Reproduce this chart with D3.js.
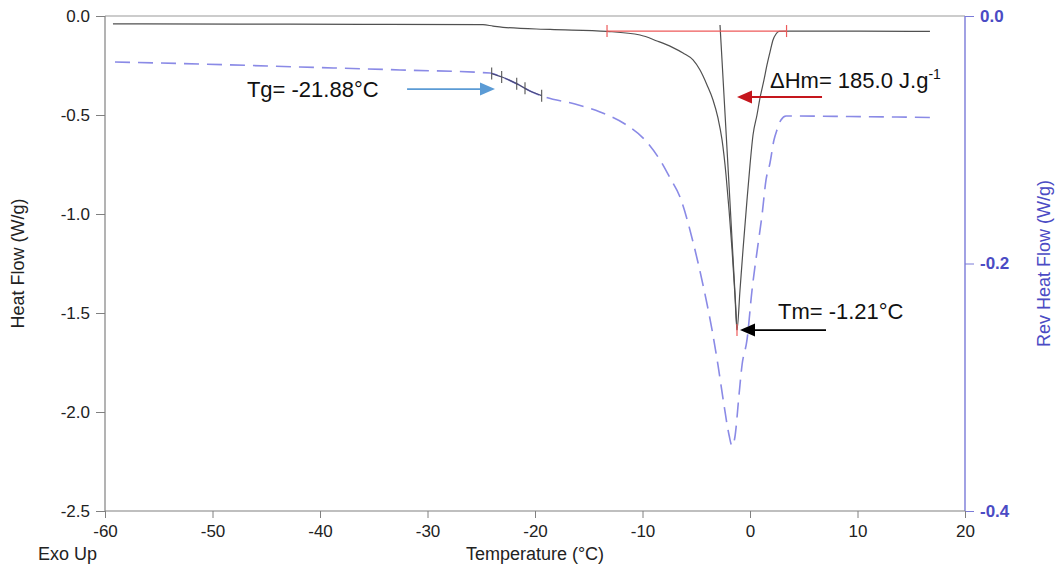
<!DOCTYPE html>
<html>
<head>
<meta charset="utf-8">
<script src="https://cdn.jsdelivr.net/npm/d3@7"></script>
<style>
  html, body { margin: 0; padding: 0; background: #fff; }
  svg { display: block; font-family: Arial, "Liberation Sans", sans-serif; }
</style>
</head>
<body>
<svg id="chart" width="1059" height="570"></svg>
<script>
// ---------------- DATA ----------------
const tempTicks = [-60, -50, -40, -30, -20, -10, 0, 10, 20];
const hfTicks = [0, -0.5, -1.0, -1.5, -2.0, -2.5];
const revTicks = [0, -0.2, -0.4];

// Heat Flow (W/g) — solid trace
const hfTemp = [-59.26, -56.47, -46.5, -36.0, -24.84, -23.9, -22.98, -18.6, -13.3, -10.23, -8.65, -7.26, -6.23, -5.3, -4.65, -4.0, -3.44, -2.98, -2.6, -2.23, -1.95, -1.67, -1.4, -1.21,
  -0.93, -0.65, -0.28, 0.0, 0.28, 0.65, 0.93, 1.3, 1.58, 1.86, 2.14, 2.42, 2.7, 3.72, 10.23, 16.74];
const hfValue = [-0.040, -0.040, -0.041, -0.042, -0.044, -0.051, -0.057, -0.068, -0.078, -0.096, -0.126, -0.157, -0.187, -0.222, -0.273, -0.348, -0.424, -0.515, -0.626, -0.803, -0.98, -1.18, -1.41, -1.586,
  -1.384, -1.18, -0.93, -0.753, -0.601, -0.5, -0.414, -0.323, -0.247, -0.182, -0.121, -0.091, -0.078, -0.076, -0.076, -0.078];

// near-vertical return segment of the heat flow trace
const hfSpikeTemp = [-2.79, -2.0, -1.21];
const hfSpikeValue = [-0.045, -0.80, -1.586];

// Rev Heat Flow (W/g) — dashed trace (right axis)
const revTemp = [-59.07, -51.16, -41.86, -32.56, -24.19, -23.07, -21.67, -20.47, -19.07, -16.28, -13.95, -11.63, -9.77, -8.37, -7.44, -6.51, -5.3, -4.37, -3.53, -2.98, -2.42, -1.95, -1.67,
  -1.4, -1.02, -0.74, -0.28, 0.19, 0.74, 1.12, 1.49, 1.86, 2.23, 2.51, 2.88, 3.35, 9.3, 16.74];
const revValue = [-0.0372, -0.0388, -0.0412, -0.0436, -0.0461, -0.0493, -0.0549, -0.0606, -0.0655, -0.0711, -0.0776, -0.0873, -0.1002, -0.1164, -0.1309, -0.1463, -0.1826, -0.2174, -0.2537, -0.282, -0.3143, -0.3386, -0.3475,
  -0.340, -0.306, -0.282, -0.2618, -0.2214, -0.185, -0.1608, -0.1325, -0.1188, -0.1002, -0.0921, -0.084, -0.0808, -0.0812, -0.082];

// Tg analysis markers (temperatures on the rev heat flow trace)
const tgMarks = [-24.03, -23.10, -21.70, -20.93, -19.38];
const tgValue = -21.88;
// Melting integration limits and peak
const meltStart = -13.3, meltEnd = 3.4, meltBase = -0.076;
const tmTemp = -1.21, tmValue = -1.586;
const dHm = 185.0;

// ---------------- CHART ----------------
const svg = d3.select("#chart");
const mLeft = 105, mRight = 965, mTop = 16, mBottom = 511;

const x = d3.scaleLinear().domain([-60, 20]).range([mLeft, mRight]);
const y = d3.scaleLinear().domain([-2.5, 0]).range([mBottom, mTop]);
const y2 = d3.scaleLinear().domain([-0.4, 0]).range([mBottom, mTop]);

const axisColor = "#808080";
const textColor = "#222";
const blue = "#4b4bc4";
const fmt1 = d => d.toFixed(1);
const tickFont = "17px";
const titleFont = "18px";

// top border
svg.append("line").attr("x1", mLeft).attr("x2", mRight).attr("y1", mTop).attr("y2", mTop)
  .attr("stroke", "#999").attr("stroke-width", 1.2);

// left axis
const gL = svg.append("g").attr("transform", `translate(${mLeft},0)`);
gL.call(d3.axisLeft(y).tickValues(d3.range(0, 21).map(i => -i * 0.125)).tickSize(4).tickFormat(""));
gL.call(d3.axisLeft(y).tickValues(hfTicks).tickSize(9).tickFormat(fmt1).tickPadding(6));
gL.selectAll("path, line").attr("stroke", axisColor);
gL.select(".domain").remove();
gL.append("line").attr("y1", mTop).attr("y2", mBottom).attr("stroke", axisColor).attr("stroke-width", 1.2);
gL.selectAll("text").attr("fill", textColor).style("font-size", tickFont).attr("font-family", "Arial, Liberation Sans, sans-serif");

// right axis
const gR = svg.append("g").attr("transform", `translate(${mRight},0)`);
gR.call(d3.axisRight(y2).tickValues(d3.range(0, 9).map(i => -i * 0.05)).tickSize(5).tickFormat(""));
gR.call(d3.axisRight(y2).tickValues(revTicks).tickSize(9).tickFormat(fmt1).tickPadding(6));
gR.select(".domain").remove();
gR.selectAll("line").attr("stroke", "#7a7ad8");
gR.append("line").attr("y1", mTop).attr("y2", mBottom).attr("stroke", "#7a7ad8").attr("stroke-width", 1.4);
gR.selectAll("text").attr("fill", blue).style("font-size", tickFont).style("font-weight", "bold").attr("font-family", "Arial, Liberation Sans, sans-serif");

// bottom axis
const gB = svg.append("g").attr("transform", `translate(0,${mBottom})`);
gB.call(d3.axisBottom(x).tickValues(d3.range(-60, 21, 2)).tickSize(4).tickFormat(""));
gB.call(d3.axisBottom(x).tickValues(tempTicks).tickSize(7).tickFormat(d => String(d)).tickPadding(7));
gB.select(".domain").remove();
gB.selectAll("line").attr("stroke", axisColor);
gB.append("line").attr("x1", mLeft).attr("x2", mRight).attr("stroke", axisColor).attr("stroke-width", 1.2);
gB.selectAll("text").attr("fill", textColor).style("font-size", tickFont).attr("font-family", "Arial, Liberation Sans, sans-serif");

// axis titles
svg.append("text").attr("transform", `translate(24,${(mTop + mBottom) / 2}) rotate(-90)`)
  .attr("text-anchor", "middle").attr("fill", textColor).style("font-size", titleFont).text("Heat Flow (W/g)");
svg.append("text").attr("transform", `translate(1050,${(mTop + mBottom) / 2}) rotate(-90)`)
  .attr("text-anchor", "middle").attr("fill", blue).style("font-size", titleFont).text("Rev Heat Flow (W/g)");
svg.append("text").attr("x", x(-20)).attr("y", 560).attr("text-anchor", "middle")
  .attr("fill", textColor).style("font-size", titleFont).text("Temperature (°C)");
svg.append("text").attr("x", 38).attr("y", 560).attr("fill", textColor).style("font-size", titleFont).text("Exo Up");

// rev heat flow dashed
const revData = revTemp.map((t, i) => [t, revValue[i]]);
const lineRev = d3.line().curve(d3.curveMonotoneX).x(d => x(d[0])).y(d => y2(d[1]));
svg.append("path").datum(revData).attr("d", lineRev).attr("fill", "none")
  .attr("stroke", "#8a8ae6").attr("stroke-width", 1.6).attr("stroke-dasharray", "15,8");

// Tg analysis overlay
const revInterp = t => {
  for (let i = 1; i < revTemp.length; i++) {
    if (t <= revTemp[i]) {
      const f = (t - revTemp[i - 1]) / (revTemp[i] - revTemp[i - 1]);
      return revValue[i - 1] + f * (revValue[i] - revValue[i - 1]);
    }
  }
  return revValue[revValue.length - 1];
};
const tgSeg = revData.filter(d => d[0] > tgMarks[0] && d[0] < tgMarks[tgMarks.length - 1]);
const tgLine = [[tgMarks[0], revInterp(tgMarks[0])], ...tgSeg, [tgMarks[4], revInterp(tgMarks[4])]];
svg.append("path").datum(tgLine).attr("d", lineRev).attr("fill", "none").attr("stroke", "#4a4a7a").attr("stroke-width", 1.3);
svg.selectAll(".tgmark").data(tgMarks).enter().append("line")
  .attr("x1", d => x(d)).attr("x2", d => x(d))
  .attr("y1", d => y2(revInterp(d)) - 6).attr("y2", d => y2(revInterp(d)) + 6)
  .attr("stroke", "#555").attr("stroke-width", 1.1);

// heat flow solid
const lineHF = d3.line().curve(d3.curveMonotoneX).x(d => x(d[0])).y(d => y(d[1]));
svg.append("path").datum(hfTemp.map((t, i) => [t, hfValue[i]])).attr("d", lineHF)
  .attr("fill", "none").attr("stroke", "#505050").attr("stroke-width", 1.2);
svg.append("path").datum(hfSpikeTemp.map((t, i) => [t, hfSpikeValue[i]])).attr("d", d3.line().curve(d3.curveBasis).x(d => x(d[0])).y(d => y(d[1])))
  .attr("fill", "none").attr("stroke", "#505050").attr("stroke-width", 1.2);

// melting baseline (red)
const red = "#ee5a5a";
svg.append("line").attr("x1", x(meltStart)).attr("x2", x(meltEnd)).attr("y1", y(meltBase)).attr("y2", y(meltBase))
  .attr("stroke", red).attr("stroke-width", 1.2);
[meltStart, meltEnd].forEach(t => {
  svg.append("line").attr("x1", x(t)).attr("x2", x(t)).attr("y1", y(meltBase) - 6).attr("y2", y(meltBase) + 6)
    .attr("stroke", red).attr("stroke-width", 1.2);
});
svg.append("line").attr("x1", x(tmTemp)).attr("x2", x(tmTemp)).attr("y1", y(tmValue) - 6).attr("y2", y(tmValue) + 6)
  .attr("stroke", red).attr("stroke-width", 1.2);

// arrows
function arrow(x1, x2, yy, color) {
  const px1 = x(x1), px2 = x(x2), py = y(yy);
  const dir = px2 > px1 ? 1 : -1;
  const hl = 15, hw = 6.5;
  svg.append("line").attr("x1", px1).attr("x2", px2 - dir * hl + dir).attr("y1", py).attr("y2", py)
    .attr("stroke", color).attr("stroke-width", 1.8);
  svg.append("path").attr("d", `M${px2},${py} L${px2 - dir * hl},${py - hw} L${px2 - dir * hl},${py + hw} Z`).attr("fill", color);
}
arrow(-31.9, -23.72, -0.369, "#5b9bd5");
arrow(6.7, -1.21, -0.409, "#c5161d");
arrow(7.07, -0.93, tmValue, "#000");

// annotation texts
const annSize = "22px";
svg.append("text").attr("x", x(-46.8)).attr("y", y(-0.408)).attr("fill", "#111").style("font-size", annSize)
  .text(`Tg= ${tgValue.toFixed(2)}°C`);
const dh = svg.append("text").attr("x", x(1.86)).attr("y", y(-0.362)).attr("fill", "#111").style("font-size", annSize);
dh.append("tspan").text(`ΔHm= ${dHm.toFixed(1)} J.g`);
dh.append("tspan").attr("dy", -9).style("font-size", "14px").text("-1");
svg.append("text").attr("x", x(2.6)).attr("y", y(-1.532)).attr("fill", "#111").style("font-size", annSize)
  .text(`Tm= ${tmTemp.toFixed(2)}°C`);
</script>
</body>
</html>
